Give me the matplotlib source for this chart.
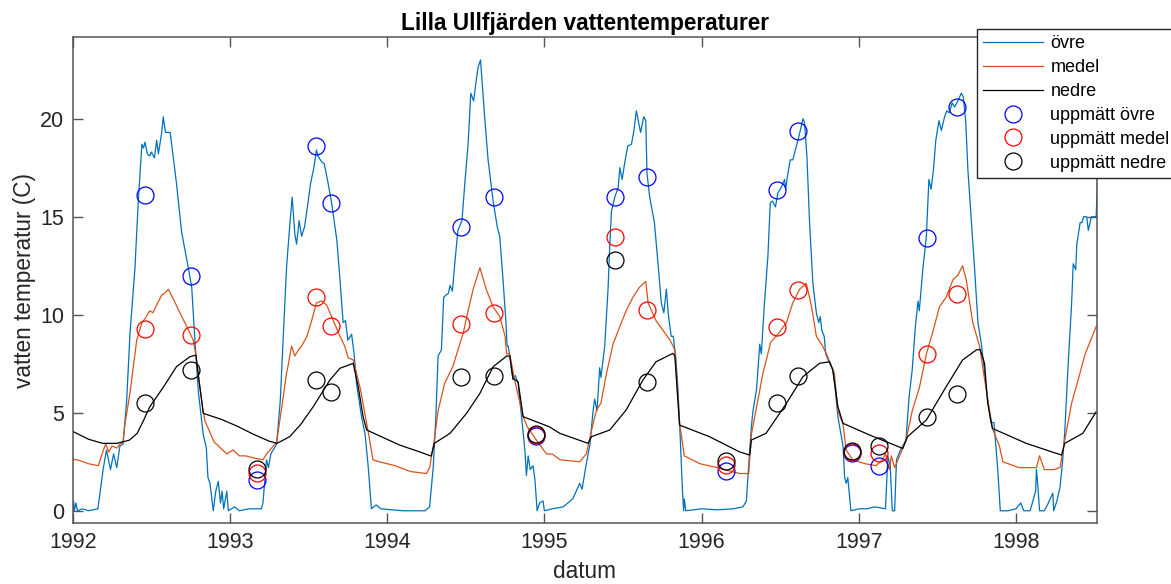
import matplotlib
matplotlib.use('Agg')
import matplotlib.pyplot as plt

plt.rcParams['font.family'] = ['Liberation Sans', 'DejaVu Sans']

# Data (decimal year, temperature in C)
ovre_t = [1992.00, 1992.005, 1992.01, 1992.02, 1992.03, 1992.06, 1992.10, 1992.16, 1992.195, 1992.215,
          1992.24, 1992.26, 1992.28, 1992.30, 1992.32, 1992.343, 1992.364, 1992.396, 1992.417, 1992.44,
          1992.45, 1992.46, 1992.475, 1992.49, 1992.50, 1992.52, 1992.534, 1992.545, 1992.566, 1992.576,
          1992.59, 1992.62, 1992.66, 1992.693, 1992.735, 1992.757, 1992.777, 1992.80, 1992.83, 1992.85,
          1992.86, 1992.873, 1992.894, 1992.91, 1992.926, 1992.94, 1992.95, 1992.96, 1992.98, 1992.99,
          1993.03, 1993.06, 1993.12, 1993.20, 1993.21, 1993.233, 1993.245, 1993.26, 1993.297, 1993.32,
          1993.34, 1993.36, 1993.38, 1993.396, 1993.413, 1993.424, 1993.44, 1993.456, 1993.475, 1993.498,
          1993.513, 1993.534, 1993.55, 1993.56, 1993.583, 1993.60, 1993.62, 1993.647, 1993.68, 1993.70,
          1993.72, 1993.735, 1993.75, 1993.774, 1993.79, 1993.805, 1993.837, 1993.86, 1993.88, 1993.90,
          1993.93, 1993.96, 1994.10, 1994.24, 1994.27, 1994.293, 1994.31, 1994.324, 1994.345, 1994.36,
          1994.39, 1994.40, 1994.415, 1994.43, 1994.45, 1994.476, 1994.494, 1994.515, 1994.532, 1994.55,
          1994.564, 1994.578, 1994.594, 1994.62, 1994.642, 1994.674, 1994.70, 1994.716, 1994.737, 1994.755,
          1994.763, 1994.77, 1994.78, 1994.80, 1994.815, 1994.833, 1994.855, 1994.876, 1994.886, 1994.897,
          1994.91, 1994.928, 1994.94, 1994.954, 1994.97, 1994.992, 1995.00, 1995.05, 1995.12, 1995.18,
          1995.225, 1995.24, 1995.267, 1995.29, 1995.31, 1995.32, 1995.335, 1995.352, 1995.36, 1995.384,
          1995.405, 1995.416, 1995.427, 1995.448, 1995.47, 1995.48, 1995.495, 1995.51, 1995.53, 1995.554,
          1995.568, 1995.585, 1995.60, 1995.612, 1995.632, 1995.645, 1995.653, 1995.67, 1995.70, 1995.723,
          1995.744, 1995.76, 1995.776, 1995.79, 1995.807, 1995.82, 1995.835, 1995.85, 1995.865, 1995.878,
          1995.886, 1995.89, 1995.90, 1996.00, 1996.10, 1996.20, 1996.263, 1996.285, 1996.306, 1996.317,
          1996.327, 1996.35, 1996.37, 1996.38, 1996.40, 1996.422, 1996.437, 1996.45, 1996.47, 1996.485,
          1996.507, 1996.528, 1996.535, 1996.545, 1996.564, 1996.58, 1996.59, 1996.613, 1996.628, 1996.645,
          1996.655, 1996.67, 1996.687, 1996.708, 1996.73, 1996.745, 1996.755, 1996.765, 1996.78, 1996.79,
          1996.81, 1996.835, 1996.85, 1996.867, 1996.90, 1996.91, 1996.92, 1996.93, 1996.95, 1997.00,
          1997.05, 1997.10, 1997.17, 1997.185, 1997.20, 1997.213, 1997.228, 1997.24, 1997.25, 1997.265,
          1997.28, 1997.30, 1997.32, 1997.34, 1997.36, 1997.377, 1997.385, 1997.407, 1997.43, 1997.446,
          1997.46, 1997.475, 1997.49, 1997.51, 1997.525, 1997.546, 1997.56, 1997.575, 1997.594, 1997.61,
          1997.63, 1997.652, 1997.665, 1997.68, 1997.694, 1997.716, 1997.737, 1997.758, 1997.78, 1997.81,
          1997.84, 1997.86, 1997.884, 1997.90, 1997.95, 1998.00, 1998.03, 1998.05, 1998.09, 1998.125,
          1998.13, 1998.135, 1998.15, 1998.18, 1998.20, 1998.234, 1998.24, 1998.26, 1998.28, 1998.295,
          1998.31, 1998.33, 1998.354, 1998.364, 1998.38, 1998.387, 1998.408, 1998.42, 1998.43, 1998.45,
          1998.46, 1998.48, 1998.51, 1998.52]
ovre_v = [0.0, 0.5, 0.0, 0.4, 0.0, 0.1, 0.0, 0.1, 2.2, 3.1,
          2.1, 2.9, 2.2, 3.3, 3.4, 5.6, 9.0, 12.4, 15.8, 18.7,
          18.5, 18.8, 18.2, 18.1, 18.3, 18.0, 18.9, 18.2, 19.3, 20.1,
          19.3, 19.3, 16.7, 14.2, 12.4, 11.4, 8.7, 6.0, 3.9, 3.2,
          1.7, 1.4, 0.0, 1.0, 1.5, 0.4, 1.0, 0.1, 1.0, 0.0,
          0.2, 0.0, 0.1, 0.1, 0.4, 2.6, 2.2, 2.9, 3.4, 5.6,
          9.0, 12.4, 14.5, 16.0, 14.1, 13.6, 14.8, 14.0, 14.5, 15.8,
          16.7, 17.5, 18.4, 18.1, 17.8, 17.7, 16.9, 15.7, 13.8, 11.8,
          9.6, 9.7, 8.7, 9.0, 8.0, 6.5, 4.8, 3.9, 2.2, 0.1,
          0.3, 0.1, 0.0, 0.0, 0.2, 2.2, 4.8, 7.9, 8.2, 10.9,
          11.1, 11.5, 11.2, 12.6, 14.3, 14.8, 16.7, 18.7, 21.3, 20.9,
          21.8, 22.6, 23.0, 20.1, 17.9, 15.8, 14.5, 14.0, 11.8, 9.7,
          8.4, 8.4, 7.9, 6.7, 6.9, 6.5, 4.8, 3.1, 1.8, 2.8,
          2.1, 2.3, 1.6, 0.0, 0.4, 0.5, 0.0, 0.1, 0.2, 0.6,
          1.4, 1.1, 2.4, 3.4, 5.1, 5.7, 5.1, 7.3, 6.8, 8.4,
          11.3, 13.5, 15.3, 16.0, 16.5, 17.5, 16.9, 17.7, 18.6, 18.7,
          19.3, 20.4, 19.8, 19.3, 20.1, 19.9, 17.2, 16.0, 14.7, 12.6,
          10.6, 10.1, 11.3, 9.9, 8.9, 8.9, 7.9, 6.2, 3.6, 1.1,
          0.0, 0.6, 0.0, 0.1, 0.05, 0.1, 0.2, 0.5, 3.1, 4.3,
          5.1, 6.2, 8.5, 8.0, 10.6, 13.0, 15.7, 15.8, 15.5, 16.2,
          16.5, 16.9, 16.4, 17.0, 17.9, 17.9, 18.2, 18.9, 19.4, 20.0,
          19.8, 18.1, 14.7, 11.6, 10.1, 9.6, 9.9, 9.2, 8.9, 8.0,
          7.6, 7.2, 6.2, 4.8, 3.3, 1.7, 1.4, 1.7, 0.0, 0.1,
          0.1, 0.2, 0.1, 2.8, 2.3, 0.0, 0.0, 2.6, 2.8, 3.1,
          3.3, 3.6, 5.8, 7.2, 9.4, 10.7, 10.2, 12.3, 14.0, 16.9,
          16.4, 17.4, 18.9, 19.9, 19.4, 20.1, 20.4, 20.3, 20.8, 20.6,
          20.9, 21.3, 21.1, 19.9, 17.4, 14.8, 12.3, 9.6, 8.5, 6.3,
          4.5, 4.5, 2.1, 0.0, 0.0, 0.1, 0.4, 0.0, 0.0, 1.0,
          2.1, 1.7, 0.0, 0.0, 0.3, 0.9, 0.0, 0.5, 1.2, 2.4,
          4.0, 7.2, 10.6, 12.6, 12.3, 13.6, 14.7, 14.7, 15.0, 15.0,
          14.3, 15.0, 15.0, 17.2]

medel_t = [1992.00, 1992.01, 1992.03, 1992.10, 1992.163, 1992.195, 1992.21, 1992.23, 1992.25, 1992.28,
           1992.30, 1992.32, 1992.33, 1992.364, 1992.407, 1992.44, 1992.46, 1992.49, 1992.51, 1992.534,
           1992.566, 1992.585, 1992.608, 1992.64, 1992.682, 1992.725, 1992.767, 1992.784, 1992.82, 1992.84,
           1992.873, 1992.90, 1992.915, 1992.94, 1992.98, 1993.02, 1993.06, 1993.10, 1993.15, 1993.21,
           1993.233, 1993.255, 1993.275, 1993.297, 1993.33, 1993.36, 1993.37, 1993.392, 1993.413, 1993.435,
           1993.456, 1993.49, 1993.52, 1993.55, 1993.583, 1993.615, 1993.647, 1993.70, 1993.73, 1993.752,
           1993.784, 1993.83, 1993.88, 1993.91, 1993.95, 1994.05, 1994.15, 1994.25, 1994.27, 1994.30,
           1994.324, 1994.366, 1994.42, 1994.45, 1994.485, 1994.515, 1994.547, 1994.59, 1994.63, 1994.674,
           1994.717, 1994.75, 1994.76, 1994.78, 1994.81, 1994.865, 1994.89, 1994.95, 1995.013, 1995.05,
           1995.10, 1995.225, 1995.267, 1995.30, 1995.33, 1995.36, 1995.395, 1995.437, 1995.48, 1995.52,
           1995.564, 1995.605, 1995.645, 1995.66, 1995.71, 1995.755, 1995.80, 1995.83, 1995.86, 1995.89,
           1995.99, 1996.10, 1996.24, 1996.30, 1996.317, 1996.35, 1996.39, 1996.44, 1996.485, 1996.54,
           1996.58, 1996.624, 1996.666, 1996.70, 1996.73, 1996.77, 1996.80, 1996.845, 1996.867, 1996.90,
           1996.92, 1996.96, 1997.04, 1997.11, 1997.15, 1997.17, 1997.195, 1997.207, 1997.228, 1997.26,
           1997.30, 1997.34, 1997.386, 1997.43, 1997.47, 1997.513, 1997.556, 1997.60, 1997.63, 1997.66,
           1997.683, 1997.725, 1997.768, 1997.81, 1997.85, 1997.895, 1997.916, 1998.02, 1998.13, 1998.15,
           1998.18, 1998.24, 1998.28, 1998.31, 1998.354, 1998.396, 1998.44, 1998.51]
medel_v = [2.7, 2.6, 2.6, 2.4, 2.3, 3.1, 3.4, 3.0, 3.3, 3.2,
           3.4, 3.5, 4.3, 6.0, 8.7, 9.6, 9.8, 10.2, 10.1, 10.5,
           11.0, 11.1, 11.3, 10.8, 10.1, 9.4, 8.7, 7.9, 5.6, 4.6,
           4.0, 3.5, 3.4, 3.2, 2.9, 3.1, 2.8, 2.8, 2.7, 2.6,
           2.9, 3.1, 3.3, 3.5, 5.3, 7.0, 7.4, 8.4, 7.9, 8.2,
           8.4, 8.9, 9.7, 10.6, 10.7, 10.5, 9.9, 8.9, 8.4, 7.8,
           7.7, 6.2, 4.0, 2.6, 2.5, 2.3, 2.0, 1.9, 2.2, 3.6,
           5.1, 6.5, 7.4, 8.2, 9.1, 10.2, 11.3, 12.4, 11.3, 10.4,
           9.9, 8.9, 8.0, 8.0, 6.7, 4.8, 4.3, 3.6, 2.9, 2.9,
           2.6, 2.5, 2.9, 4.1, 5.1, 5.5, 7.0, 8.5, 9.4, 10.2,
           10.9, 11.4, 11.7, 10.6, 9.7, 9.2, 8.7, 8.2, 4.5, 2.8,
           2.4, 2.2, 1.9, 1.9, 3.9, 5.3, 7.0, 8.6, 9.0, 9.6,
           10.6, 11.3, 11.6, 10.4, 8.9, 8.4, 7.9, 7.0, 5.1, 4.4,
           3.1, 2.6, 2.4, 2.3, 2.6, 2.9, 2.1, 2.8, 2.2, 2.8,
           3.6, 5.1, 6.3, 8.0, 9.1, 10.4, 10.9, 11.8, 12.0, 12.5,
           11.8, 9.6, 8.4, 6.2, 4.2, 3.3, 2.5, 2.2, 2.2, 2.8,
           2.1, 2.1, 2.2, 3.6, 5.5, 6.7, 8.0, 9.4]

nedre_t = [1992.00, 1992.10, 1992.19, 1992.28, 1992.32, 1992.36, 1992.41, 1992.45, 1992.49, 1992.576,
           1992.66, 1992.746, 1992.784, 1992.80, 1992.82, 1992.83, 1992.95, 1993.05, 1993.15, 1993.25,
           1993.30, 1993.38, 1993.45, 1993.53, 1993.636, 1993.70, 1993.784, 1993.816, 1993.847, 1993.87,
           1994.08, 1994.208, 1994.28, 1994.30, 1994.40, 1994.505, 1994.59, 1994.674, 1994.76, 1994.78,
           1994.80, 1994.833, 1994.865, 1995.03, 1995.098, 1995.278, 1995.30, 1995.416, 1995.52, 1995.627,
           1995.71, 1995.818, 1995.83, 1995.86, 1996.05, 1996.24, 1996.306, 1996.317, 1996.41, 1996.54,
           1996.645, 1996.75, 1996.814, 1996.835, 1996.867, 1996.90, 1997.07, 1997.28, 1997.31, 1997.43,
           1997.556, 1997.66, 1997.747, 1997.772, 1997.80, 1997.82, 1997.85, 1998.065, 1998.29, 1998.31,
           1998.425, 1998.51]
nedre_v = [4.05, 3.65, 3.44, 3.44, 3.52, 3.6, 3.95, 4.6, 5.3, 6.3,
           7.35, 7.86, 7.94, 6.84, 5.65, 4.97, 4.65, 4.3, 3.9, 3.55,
           3.44, 3.78, 4.4, 5.31, 6.67, 7.27, 7.52, 6.33, 4.80, 4.12,
           3.35, 3.0, 2.79, 3.44, 3.95, 4.97, 5.99, 7.35, 7.89, 7.89,
           6.75, 6.58, 4.80, 4.29, 3.95, 3.44, 3.78, 4.12, 5.14, 6.67,
           7.60, 8.03, 7.9, 4.37, 3.78, 3.01, 2.84, 3.61, 3.95, 5.48,
           6.84, 7.52, 7.60, 7.18, 5.31, 4.46, 3.86, 3.18, 3.78, 4.63,
           6.33, 7.69, 8.20, 8.23, 7.52, 5.48, 4.20, 3.44, 2.84, 3.44,
           3.95, 5.05]

# measured values (uppmätt)
matt_t = [1992.46, 1992.75, 1993.17, 1993.55, 1993.645, 1994.47, 1994.678, 1994.95, 1995.448,
          1995.655, 1996.156, 1996.48, 1996.613, 1996.956, 1997.128, 1997.435, 1997.626]
matt_ovre = [16.1, 12.0, 1.55, 18.6, 15.7, 14.5, 16.0, 3.8, 16.0,
             17.0, 2.05, 16.35, 19.35, 2.95, 2.3, 13.9, 20.6]
matt_medel = [9.25, 8.95, 1.95, 10.9, 9.45, 9.55, 10.1, 3.85, 13.95,
              10.25, 2.35, 9.35, 11.25, 3.0, 2.95, 8.0, 11.05]
matt_nedre = [5.5, 7.2, 2.15, 6.65, 6.05, 6.8, 6.85, 3.9, 12.8,
              6.55, 2.55, 5.5, 6.85, 3.05, 3.3, 4.8, 5.95]

years = [1992, 1993, 1994, 1995, 1996, 1997, 1998]

fig = plt.figure(figsize=(11.71, 5.84), dpi=100)
ax = fig.add_axes([0.0621, 0.1039, 0.8744, 0.8322])

ax.plot(ovre_t, ovre_v, color='#0072BD', lw=0.9, label='övre')
ax.plot(medel_t, medel_v, color='#D95319', lw=0.9, label='medel')
ax.plot(nedre_t, nedre_v, color='k', lw=0.9, label='nedre')
ms = 12.2
ax.plot(matt_t, matt_ovre, 'o', mfc='none', mec='#0000FF', ms=ms, mew=0.9, label='uppmätt övre')
ax.plot(matt_t, matt_medel, 'o', mfc='none', mec='#FF0000', ms=ms, mew=0.9, label='uppmätt medel')
ax.plot(matt_t, matt_nedre, 'o', mfc='none', mec='k', ms=ms, mew=0.9, label='uppmätt nedre')

ax.set_xlim(1992, 1998.513)
ax.set_ylim(-0.64, 24.15)
ax.set_xticks(years)
ax.set_xticklabels([str(y) for y in years])
ax.set_yticks([0, 5, 10, 15, 20])

axc = '#262626'
for s in ax.spines.values():
    s.set_color('#555555')
    s.set_linewidth(1.1)
ax.tick_params(direction='in', top=True, right=True, length=7.2, width=1.0,
               color='#555555', labelcolor=axc, labelsize=15.5)
ax.tick_params(axis='x', pad=6)
ax.tick_params(axis='y', pad=6)

ax.set_xlabel('datum', fontsize=16.3, color=axc, labelpad=5)
ax.set_ylabel('vatten temperatur (C)', fontsize=16.3, color=axc, labelpad=3)
ax.set_title('Lilla Ullfjärden vattentemperaturer', fontsize=16.3, fontweight='bold', pad=5)

leg = ax.legend(loc='upper left', bbox_to_anchor=(976.7 / 1171, 1 - 29 / 584),
                bbox_transform=fig.transFigure, fontsize=13, frameon=True, fancybox=False,
                framealpha=1, edgecolor='#262626', borderaxespad=0, borderpad=0.35,
                handlelength=3.33, handletextpad=0.4, labelspacing=0.38)
leg.get_frame().set_linewidth(1.0)

fig.savefig('out.png', dpi=100)
